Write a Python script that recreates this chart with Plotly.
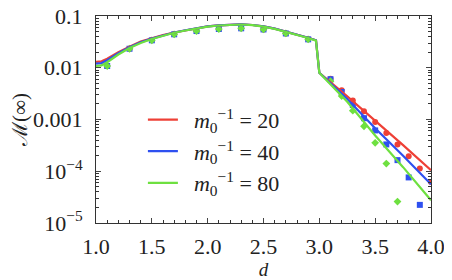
import plotly.graph_objects as go

# ---- data ----
line_d = [1.0, 1.05, 1.1, 1.2, 1.3, 1.4, 1.5, 1.6, 1.7, 1.8, 1.9, 2.0, 2.1, 2.2, 2.3,
          2.4, 2.5, 2.6, 2.7, 2.8, 2.9, 2.97, 3.0, 3.25, 3.5, 3.75, 4.0]
line_m20 = [0.0130, 0.0133, 0.0150, 0.0200, 0.0255, 0.032, 0.037, 0.043, 0.048, 0.053,
            0.058, 0.063, 0.066, 0.068, 0.069, 0.067, 0.063, 0.057, 0.050, 0.044,
            0.038, 0.034, 0.0080, 0.0028, 0.00096, 0.00032, 0.000105]
line_m40 = [0.0120, 0.0123, 0.0140, 0.0190, 0.0248, 0.031, 0.0365, 0.0425, 0.048, 0.053,
            0.058, 0.063, 0.066, 0.068, 0.069, 0.067, 0.063, 0.057, 0.050, 0.044,
            0.038, 0.034, 0.0080, 0.0025, 0.00068, 0.00020, 0.000056]
line_m80 = [0.0108, 0.0111, 0.0128, 0.0180, 0.0240, 0.030, 0.036, 0.042, 0.0475, 0.0525,
            0.0575, 0.0625, 0.0655, 0.0675, 0.0685, 0.0665, 0.0625, 0.0565, 0.0495, 0.0435,
            0.0375, 0.0335, 0.0080, 0.0022, 0.00049, 0.00012, 0.0000275]

hump_d = [1.1, 1.3, 1.5, 1.7, 1.9, 2.1, 2.3, 2.5, 2.7, 2.9]
hump_pts = [0.0108, 0.0233, 0.0339, 0.0443, 0.0512, 0.056, 0.0578, 0.055, 0.046, 0.0354]

tail_d20 = [3.1, 3.2, 3.3, 3.4, 3.5, 3.6, 3.7, 3.8, 3.9, 4.0]
tail_m20 = [0.0061, 0.00366, 0.00234, 0.00145, 0.00089, 0.00055, 0.00033, 0.000196, 0.000113, 0.000062]
tail_d40 = [3.1, 3.2, 3.3, 3.4, 3.5, 3.6, 3.7, 3.8, 3.9]
tail_m40 = [0.0060, 0.0034, 0.0019, 0.00106, 0.000615, 0.00033, 0.000164, 0.000076, 0.0000224]
tail_d80 = [3.1, 3.2, 3.3, 3.4, 3.5, 3.6, 3.7]
tail_m80 = [0.0055, 0.00284, 0.00148, 0.00074, 0.000355, 0.000141, 0.000026]

names = ["\u00a0\u00a0<i>m</i><sub>0</sub><sup>−1</sup> = 20",
         "\u00a0\u00a0<i>m</i><sub>0</sub><sup>−1</sup> = 40",
         "\u00a0\u00a0<i>m</i><sub>0</sub><sup>−1</sup> = 80"]
colors = ["#ee4036", "#2e50f0", "#6ee040"]
symbols = ["circle", "square", "diamond"]

y_tickvals = [0.1, 0.01, 0.001, 1e-4, 1e-5]
y_ticktext = ["0.1", "0.01", "0.001", "10<sup>−4</sup>", "10<sup>−5</sup>"]
y_minor_vals = [m * 10.0 ** e for e in range(-5, -1) for m in range(2, 10)]

fig = go.Figure()

lines = [line_m20, line_m40, line_m80]
tails = [(tail_d20, tail_m20), (tail_d40, tail_m40), (tail_d80, tail_m80)]

for i in range(3):
    fig.add_trace(go.Scatter(x=hump_d + tails[i][0], y=hump_pts + tails[i][1],
                             mode="markers", showlegend=False,
                             marker=dict(color=colors[i], symbol=symbols[i], size=6)))
for i in range(3):
    fig.add_trace(go.Scatter(x=line_d, y=lines[i], mode="lines", name=names[i],
                             line=dict(color=colors[i], width=2.2)))

font_family = "Liberation Serif"
# page body has an 8px default margin, so the figure is sized/offset to compensate
fig.update_layout(
    width=444, height=272,
    margin=dict(l=88, r=21, t=8, b=57),
    paper_bgcolor="white", plot_bgcolor="white",
    font=dict(family=font_family, size=22, color="#222"),
    legend=dict(x=0.14, y=0.6, xanchor="left", yanchor="top",
                bgcolor="rgba(0,0,0,0)", font=dict(size=22), tracegroupgap=0,
                itemwidth=30),
    xaxis=dict(range=[1, 4], dtick=0.5, tickformat=".1f", ticks="inside", ticklen=5,
               showline=True, linecolor="#333", linewidth=1, mirror="allticks",
               showgrid=False, zeroline=False, ticklabelstandoff=4,
               automargin=False, ticklabeloverflow="allow",
               minor=dict(dtick=0.1, ticks="inside", ticklen=3, tickcolor="#333"),
               title=dict(text="<i>d</i>", font=dict(size=19), standoff=9)),
    yaxis=dict(type="log", range=[-5, -1], tickvals=y_tickvals, ticktext=y_ticktext,
               ticks="inside", ticklen=5, showline=True, linecolor="#333", linewidth=1,
               mirror="allticks", showgrid=False, zeroline=False, ticklabelstandoff=8,
               automargin=False, ticklabeloverflow="allow",
               minor=dict(tickmode="array", tickvals=y_minor_vals, ticks="inside",
                          ticklen=3, tickcolor="#333", showgrid=False),
               title=dict(text="ℳ(∞)", font=dict(size=21), standoff=4)),
)

fig.write_html("out.html")
